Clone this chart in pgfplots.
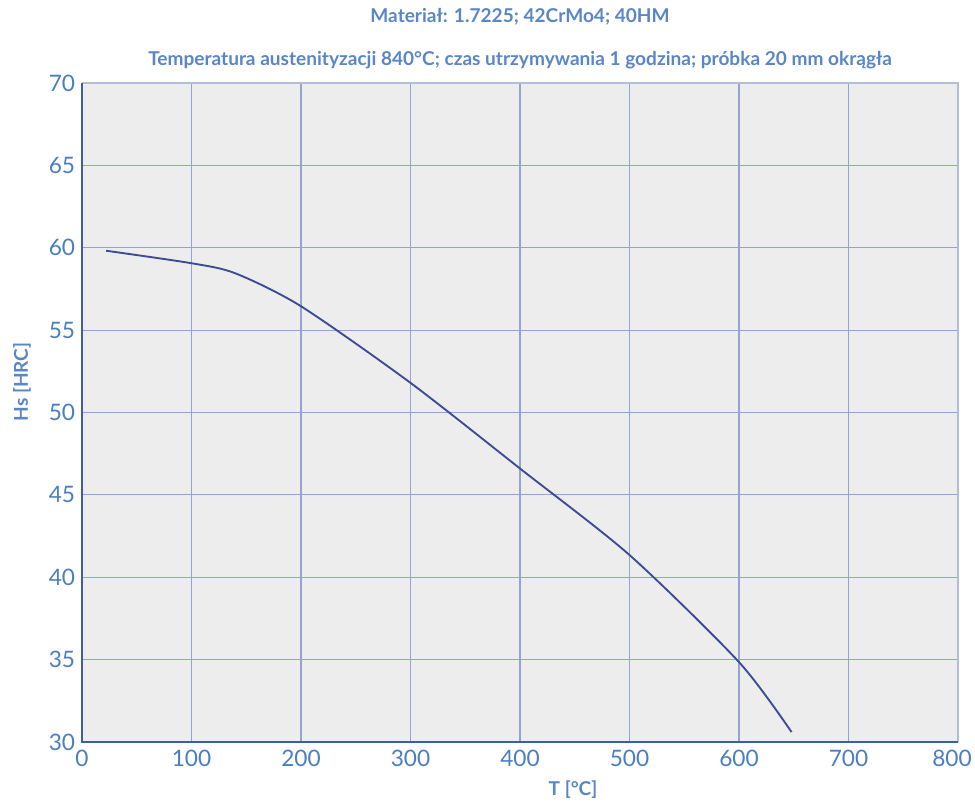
\documentclass[border=0pt]{standalone}
\usepackage{fontspec}
\setmainfont{Lato}
\usepackage{pgfplots}
\pgfplotsset{compat=1.18}
\definecolor{txtblue}{HTML}{4A7EC1}
\definecolor{titleblue}{HTML}{5A86C6}
\definecolor{axisblue}{HTML}{3B5FA6}
\definecolor{gridblue}{HTML}{8FA6D0}
\definecolor{topline}{HTML}{B3BED6}
\definecolor{bgc}{HTML}{EDEDED}
\definecolor{curve}{HTML}{3D4B96}
\begin{document}
\begin{tikzpicture}[x=1pt,y=1pt]
\path[use as bounding box] (-61.5,-46.5) rectangle (669.75,556.5);
\begin{axis}[
    at={(0,0)}, anchor=south west,
    scale only axis,
    width=657pt, height=494.25pt,
    xmin=0, xmax=800, ymin=30, ymax=70,
    xtick={0,100,...,700},
    extra x ticks={800},
    extra x tick style={xticklabel style={xshift=-4.5pt}},
    ytick={30,35,...,70},
    major tick length=0pt,
    grid=major,
    major grid style={draw=gridblue, line width=0.8pt},
    axis background/.style={fill=bgc},
    axis line style={draw=none},
    /pgf/number format/assume math mode=true,
    ticklabel style={font=\fontsize{17}{17}\selectfont, text=txtblue},
    xticklabel style={inner sep=0pt, anchor=north, yshift=-6pt},
    yticklabel style={inner sep=0pt, anchor=east, xshift=-5pt},
    clip=false,
]
\addplot[curve, line width=1.4pt, smooth, tension=0.45] coordinates {
    (22,59.82)
    (100,59.06)
    (140,58.45)
    (200,56.45)
    (300,51.8)
    (400,46.6)
    (500,41.35)
    (600,34.85)
    (648,30.6)
};
\draw[topline, line width=1.6pt] (rel axis cs:0,1) -- (rel axis cs:1,1) -- (rel axis cs:1,0);
\draw[axisblue, line width=1.6pt] (rel axis cs:0,1) -- (rel axis cs:0,0) -- (rel axis cs:1,0);
\end{axis}
\node[font=\fontsize{14.3}{14.3}\selectfont\bfseries, text=titleblue] at (328.5,543.75) {Materiał: 1.7225; 42CrMo4; 40HM};
\node[font=\fontsize{14.3}{14.3}\selectfont\bfseries, text=titleblue] at (328.5,511.5) {Temperatura austenityzacji 840°C; czas utrzymywania 1 godzina; próbka 20 mm okrągła};
\node[font=\fontsize{14.3}{14.3}\selectfont\bfseries, text=titleblue] at (368.25,-36) {T [°C]};
\node[font=\fontsize{14.3}{14.3}\selectfont\bfseries, text=titleblue, rotate=90] at (-45,270) {Hs [HRC]};
\end{tikzpicture}
\end{document}
